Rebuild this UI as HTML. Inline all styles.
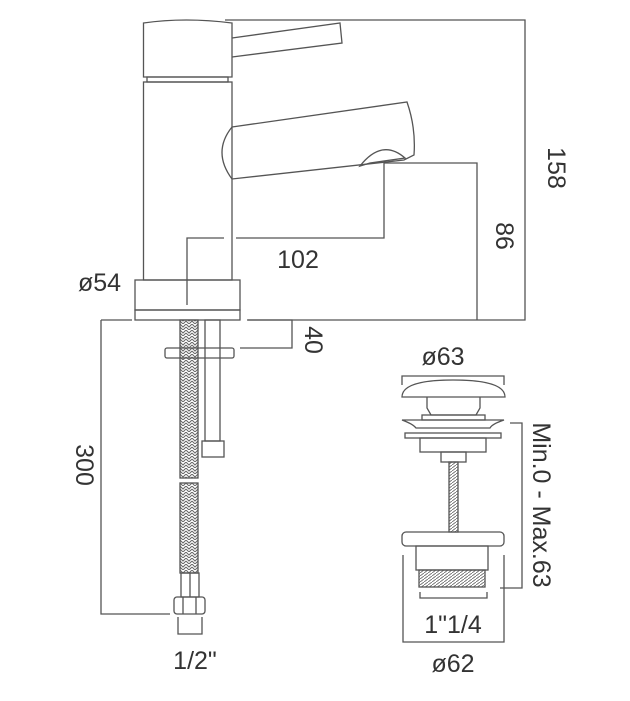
<!DOCTYPE html>
<html><head><style>html,body{margin:0;padding:0;background:#fff}svg{display:block}text{font-family:"Liberation Sans",sans-serif;fill:#333;font-size:25px}</style></head><body>
<svg width="630" height="701" viewBox="0 0 630 701" xmlns="http://www.w3.org/2000/svg">
<defs>
<pattern id="br" width="6" height="6" patternUnits="userSpaceOnUse"><path d="M0 0 L3 3 L6 0 M0 3 L3 6 L6 3" stroke="#666" stroke-width="1" fill="none"/></pattern>
<pattern id="th" width="4" height="3" patternUnits="userSpaceOnUse"><path d="M0 3 L4 0" stroke="#666" stroke-width="0.9"/></pattern>
</defs>
<g fill="none" stroke="#555" stroke-width="1.3">
<!-- tap -->
<path d="M143.5 77 V23 Q185 17 232 23 V77 Z"/>
<rect x="147" y="77" width="81" height="5"/>
<rect x="143.5" y="82" width="88.5" height="198"/>
<path d="M232 38 L340 23 L342 43 L232 57"/>
<path d="M232 127 L407 102 Q416 128 414 155 L404 160 L232 179 Q212 152 232 127"/>
<path d="M360 166 Q382 138 405 158 L370 163 Z"/>
<rect x="135" y="280" width="105" height="30"/>
<rect x="135" y="310" width="105" height="10"/>
<!-- dims -->
<path d="M225 20 H525 V320 H248"/>
<path d="M384 163 H477 V320"/>
<path d="M384 163 V238 H236 M224 238 H187 V305"/>
<path d="M101 320 H132 M101 320 V614 H170"/>
<path d="M247 320 H292 V348 H240"/>
<!-- hose -->
<rect x="180" y="320" width="18" height="158" fill="url(#br)"/>
<rect x="180" y="483" width="18" height="90" fill="url(#br)"/>
<rect x="205" y="320" width="15" height="121"/>
<rect x="202" y="441" width="22" height="16"/>
<rect x="165" y="348" width="69" height="10" rx="2"/>
<rect x="181" y="573" width="18" height="24"/>
<line x1="190" y1="573" x2="190" y2="597"/>
<rect x="174" y="597" width="31" height="17" rx="3"/>
<line x1="183" y1="597" x2="183" y2="614"/><line x1="196" y1="597" x2="196" y2="614"/>
<path d="M178 617 V634 H202 V617"/>
<!-- waste -->
<path d="M402 385 V376 H504 V385"/>
<path d="M402 397 Q402 380 453 380 Q505 380 505 397 Z"/>
<path d="M427 397 V408 L431 415 H476 L480 408 V397"/>
<rect x="422" y="415" width="63" height="5"/>
<path d="M402 420 H504 Q492 424 490 428 H416 Q413 424 402 420 Z"/>
<rect x="405" y="433" width="96" height="5"/>
<rect x="420" y="438" width="66" height="14"/>
<rect x="441" y="452" width="25" height="10"/>
<rect x="449" y="462" width="9" height="70" fill="url(#th)"/>
<rect x="402" y="532" width="102" height="14" rx="4"/>
<rect x="416" y="546" width="72" height="24"/>
<rect x="419" y="570" width="66" height="17" fill="url(#th)"/>
<path d="M510 423 H522 V588 H500"/>
<path d="M420 592 V598 H487 V592"/>
<path d="M403 555 V642 H504 V555"/>
</g>
<text x="548" y="168" transform="rotate(90 548 168)" text-anchor="middle">158</text>
<text x="496" y="236" transform="rotate(90 496 236)" text-anchor="middle">86</text>
<text x="298" y="268" text-anchor="middle">102</text>
<text x="78" y="291">ø54</text>
<text x="305" y="340" transform="rotate(90 305 340)" text-anchor="middle">40</text>
<text x="76" y="465" transform="rotate(-90 76 465) rotate(180 76 465)" text-anchor="middle">300</text>
<text x="195" y="669" text-anchor="middle">1/2"</text>
<text x="443" y="365" text-anchor="middle">ø63</text>
<text x="533" y="505" transform="rotate(90 533 505)" text-anchor="middle">Min.0 - Max.63</text>
<text x="453" y="633" text-anchor="middle">1"1/4</text>
<text x="453" y="672" text-anchor="middle">ø62</text>
</svg>
</body></html>
